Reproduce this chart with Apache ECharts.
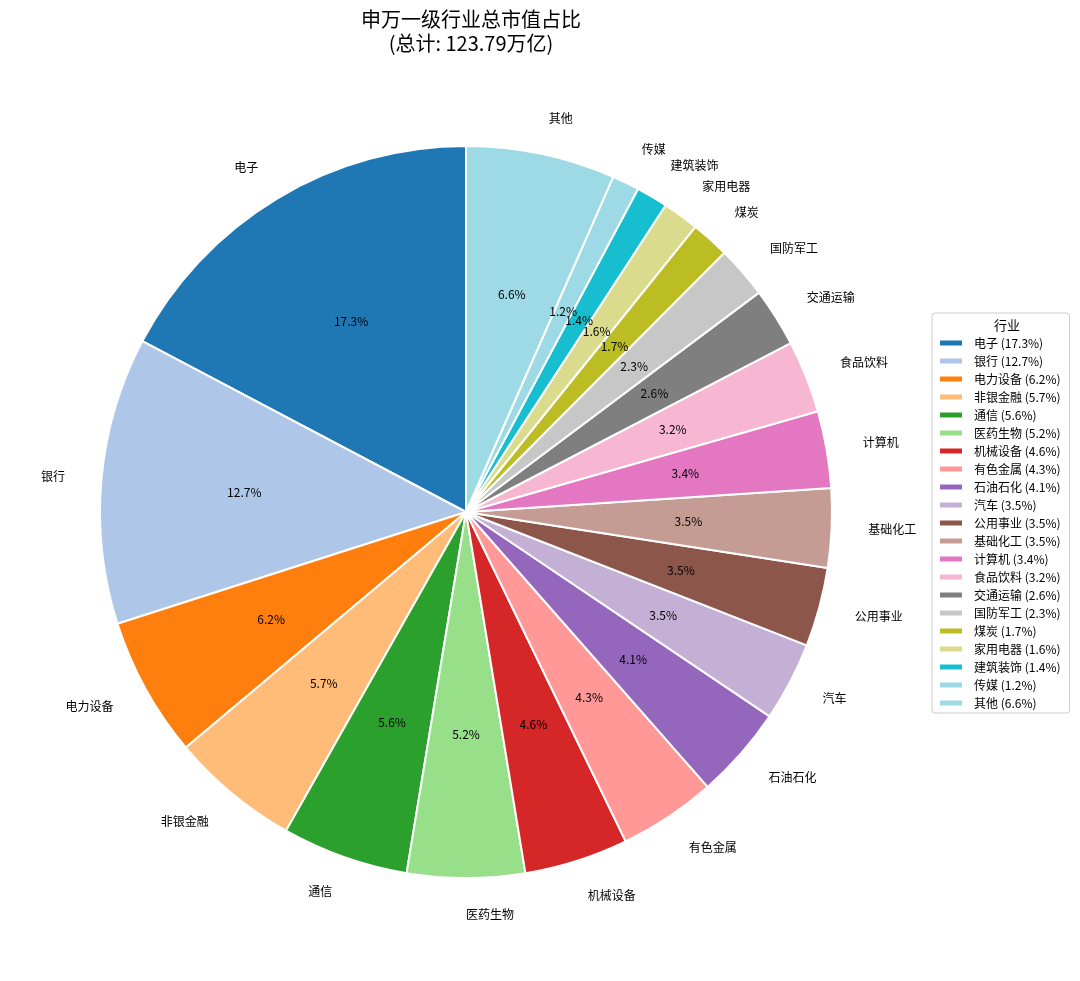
<!DOCTYPE html>
<html><head><meta charset="utf-8">
<script src="https://cdn.jsdelivr.net/npm/echarts@6/dist/echarts.min.js"></script>
<style>html,body{margin:0;padding:0;background:#fff}#c{width:1080px;height:981px}</style>
</head><body><div id="c"></div>
<script>
const categories = ['电子','银行','电力设备','非银金融','通信','医药生物','机械设备','有色金属','石油石化','汽车','公用事业','基础化工','计算机','食品饮料','交通运输','国防军工','煤炭','家用电器','建筑装饰','传媒','其他'];
const shares = [17.3,12.7,6.2,5.7,5.6,5.2,4.6,4.3,4.1,3.5,3.5,3.5,3.4,3.2,2.6,2.3,1.7,1.6,1.4,1.2,6.6];
const colors = ['#1f77b4','#aec7e8','#ff7f0e','#ffbb78','#2ca02c','#98df8a','#d62728','#ff9896','#9467bd','#c5b0d5','#8c564b','#c49c94','#e377c2','#f7b6d2','#7f7f7f','#c7c7c7','#bcbd22','#dbdb8d','#17becf','#9edae5','#9edae5'];
const totalText = '123.79万亿';

const FONT = '"Noto Sans CJK SC", "DejaVu Sans", sans-serif';
const cx = 466, cy = 512, R = 366;
const data = categories.map((n, i) => ({name: n, value: shares[i], itemStyle: {color: colors[i]}}));
const pctMap = {};
categories.forEach((n, i) => pctMap[n] = shares[i]);

const chart = echarts.init(document.getElementById('c'), null, {renderer: 'canvas'});
chart.setOption({
  backgroundColor: '#fff',
  animation: false,
  textStyle: {fontFamily: FONT},
  title: [{
    text: '申万一级行业总市值占比\n(总计: ' + totalText + ')',
    left: cx, top: 2, textAlign: 'center',
    textStyle: {fontFamily: FONT, fontSize: 20, fontWeight: 'normal', color: '#000', lineHeight: 24}
  }, {
    text: '行业', left: 1002, top: 314, textAlign: 'center',
    textStyle: {fontFamily: FONT, fontSize: 13, fontWeight: 'normal', color: '#000'}
  }],
  legend: {
    orient: 'vertical', left: 932, top: 313,
    padding: [23, 9, 3, 6],
    borderColor: '#cccccc', borderWidth: 1, borderRadius: 3,
    itemWidth: 24, itemHeight: 7, itemGap: 4,
    icon: 'rect',
    data: categories,
    formatter: n => n + ' (' + pctMap[n] + '%)',
    textStyle: {fontFamily: FONT, fontSize: 12, color: '#000', lineHeight: 14, padding: [0, 0, 0, 6]}
  },
  series: [{
    type: 'pie', center: [cx, cy], radius: [0, R],
    startAngle: 90, clockwise: false, avoidLabelOverlap: false,
    data: data,
    itemStyle: {borderColor: '#fff', borderWidth: 2},
    label: {show: true, position: 'outside', formatter: '{b}', fontFamily: FONT, fontSize: 12, color: '#000', distanceToLabelLine: 0},
    labelLine: {show: false, length: R * 0.1, length2: 0},
    labelLayout: {hideOverlap: false},
    emphasis: {disabled: true}
  }, {
    type: 'pie', center: [cx, cy], radius: [0, R * 1.2],
    startAngle: 90, clockwise: false, avoidLabelOverlap: false, silent: true,
    minShowLabelAngle: 0,
    data: categories.map((n, i) => ({name: n, value: shares[i]})),
    itemStyle: {color: 'rgba(0,0,0,0)', borderWidth: 0},
    label: {show: true, position: 'inside', formatter: p => p.value.toFixed(1) + '%', fontFamily: FONT, fontSize: 12, color: '#000'},
    labelLine: {show: false},
    labelLayout: {hideOverlap: false},
    emphasis: {disabled: true}
  }]
});
</script></body></html>
